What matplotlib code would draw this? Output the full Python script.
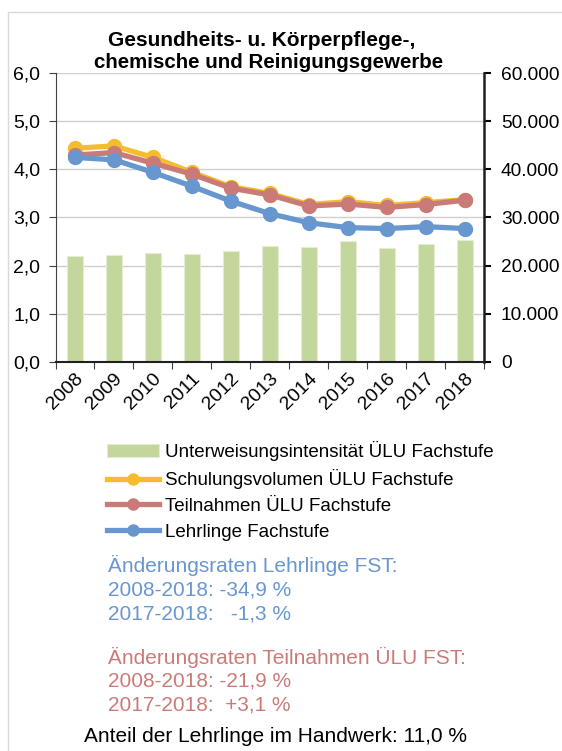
import matplotlib.pyplot as plt
from matplotlib.patches import Rectangle
from matplotlib.ticker import FuncFormatter, MultipleLocator

plt.rcParams['font.family'] = ['Liberation Sans', 'DejaVu Sans']

# data
years = ['2008', '2009', '2010', '2011', '2012', '2013', '2014', '2015', '2016', '2017', '2018']
intensitaet = [2.19, 2.22, 2.26, 2.25, 2.30, 2.41, 2.39, 2.51, 2.37, 2.45, 2.54]
schulungsvolumen = [44400, 44900, 42500, 39400, 36400, 35000, 32700, 33300, 32500, 33100, 33700]
teilnahmen = [43000, 43500, 41300, 39000, 36100, 34700, 32400, 32800, 32100, 32700, 33600]
lehrlinge = [42500, 42000, 39400, 36500, 33400, 30800, 28900, 27900, 27700, 28100, 27700]

blue_lines = ['Änderungsraten Lehrlinge FST:', '2008-2018: -34,9 %', '2017-2018:   -1,3 %']
red_lines = ['Änderungsraten Teilnahmen ÜLU FST:', '2008-2018: -21,9 %', '2017-2018:  +3,1 %']
footer = 'Anteil der Lehrlinge im Handwerk: 11,0 %'

green = '#c3d69b'
yellow = '#f5bd2d'
red = '#cb7b77'
blue = '#6897d0'

W, H = 562, 751
fig = plt.figure(figsize=(W / 100, H / 100), dpi=100)

# light frame around the chart area (right and bottom edges lie outside the image)
fig.patches.append(Rectangle((8 / W, -0.5), 2.0, 1.5 - 12 / H, transform=fig.transFigure,
                             fill=False, edgecolor='#d9d9d9', linewidth=1))

ax1 = fig.add_axes([55.5 / W, 1 - 361.7 / H, (484.3 - 55.5) / W, (361.7 - 73.3) / H])
ax2 = ax1.twinx()

x = list(range(len(years)))
bars = ax1.bar(x, intensitaet, width=0.4, color=green, edgecolor='#e4edd2', linewidth=0.8,
               zorder=2, label='Unterweisungsintensität ÜLU Fachstufe')
ax1.set_ylim(0, 6)
ax1.set_xlim(-0.5, len(years) - 0.5)
ax1.yaxis.set_major_locator(MultipleLocator(1))
ax1.yaxis.set_major_formatter(FuncFormatter(lambda v, p: f'{v:.1f}'.replace('.', ',')))
ax1.grid(axis='y', color='#cfcfcf', linewidth=1, zorder=0)
ax1.set_axisbelow(True)

# lines on the right axis
l1, = ax2.plot(x, schulungsvolumen, color=yellow, lw=3.8, marker='o', ms=10, zorder=3,
               label='Schulungsvolumen ÜLU Fachstufe')
l2, = ax2.plot(x, teilnahmen, color=red, lw=3.8, marker='o', ms=10, zorder=4,
               label='Teilnahmen ÜLU Fachstufe')
l3, = ax2.plot(x, lehrlinge, color=blue, lw=3.8, marker='o', ms=10, zorder=5,
               label='Lehrlinge Fachstufe')
ax2.set_ylim(0, 60000)
ax2.yaxis.set_major_locator(MultipleLocator(10000))
ax2.yaxis.set_major_formatter(FuncFormatter(lambda v, p: f'{int(v):,}'.replace(',', '.')))

# x ticks between categories, labels centred under bars
ax1.set_xticks([i + 0.5 for i in x[:-1]] + [-0.5, len(years) - 0.5])
ax1.set_xticklabels([])
ax1.set_xticks(x, minor=True)
ax1.set_xticklabels(years, minor=True, rotation=45, ha='right', rotation_mode='anchor', fontsize=14)
ax1.tick_params(axis='x', which='minor', length=0, pad=6)
ax1.tick_params(axis='x', which='major', length=5, color='#404040')
ax1.tick_params(axis='y', labelsize=14, length=5, color='#404040', pad=6)
ax2.tick_params(axis='y', labelsize=13.8, length=5, direction='out', width=1.5, pad=7)

for ax in (ax1, ax2):
    ax.spines['top'].set_visible(False)
ax2.spines['left'].set_visible(False)
ax2.spines['bottom'].set_visible(False)
ax1.spines['right'].set_visible(False)
ax1.spines['left'].set_color('#404040')
ax1.spines['bottom'].set_color('#202020')
ax1.spines['bottom'].set_linewidth(1.5)
ax2.spines['right'].set_linewidth(1.8)
ax2.spines['right'].set_color('#202020')

fig.text(0.465, 1 - 40 / H, 'Gesundheits- u. Körperpflege-,', ha='center', va='center',
         fontsize=15, fontweight='bold')
fig.text(0.477, 1 - 62 / H, 'chemische und Reinigungsgewerbe', ha='center', va='center',
         fontsize=14.8, fontweight='bold')

fig.legend(handles=[bars, l1, l2, l3], loc='upper left',
           bbox_to_anchor=(106.7 / W, 1 - 441 / H), frameon=False, fontsize=13.5,
           handlelength=2.8, handletextpad=0.3, labelspacing=0.45, borderpad=0,
           borderaxespad=0, numpoints=1, markerscale=0.8)

for text, y in zip(blue_lines, [565, 590, 614]):
    fig.text(108 / W, 1 - y / H, text, color=blue, fontsize=15, va='center', ha='left')
for text, y in zip(red_lines, [657, 681, 705]):
    fig.text(108 / W, 1 - y / H, text, color=red, fontsize=15, va='center', ha='left')
fig.text(84 / W, 1 - 737 / H, footer, color='black', fontsize=15, va='center', ha='left')

fig.savefig('out.png', dpi=100)
